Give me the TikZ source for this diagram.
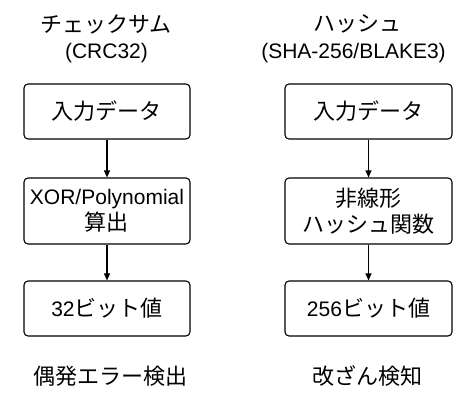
\documentclass[tikz,border=0pt]{standalone}
\usepackage{fontspec}
\setmainfont{Liberation Sans}
\newfontfamily\jpfont{Noto Sans CJK JP}
\newcommand{\jp}[1]{{\jpfont\fontsize{22}{26}\selectfont #1}}
\usetikzlibrary{arrows.meta}
\begin{document}
\begin{tikzpicture}[x=1pt,y=1pt,
  every node/.style={font=\fontsize{21}{26}\selectfont, inner sep=0pt},
  stepbox/.style={draw, line width=1.1pt, rounded corners=4pt, align=center},
  flow/.style={-{Triangle[length=7pt,width=6pt]}, line width=1.1pt}]
\useasboundingbox (0,0) rectangle (472,-401);
% left column
\node (lt1) at (106,-24) {\jp{チェックサム}};
\node (lt2) at (106.5,-53) {(CRC32)};
\node[stepbox, minimum width=166pt, minimum height=55pt] (l1) at (107,-111.5) {\jp{入力データ}};
\node[stepbox, minimum width=166pt, minimum height=66pt] (l2) at (107,-211) {XOR/Polynomial\\\jp{算出}};
\node[stepbox, minimum width=166pt, minimum height=55pt] (l3) at (107,-308.5) {32\jp{ビット値}};
\node (lc) at (111,-376) {\jp{偶発エラー検出}};
\draw[flow] (l1) -- (l2);
\draw[flow] (l2) -- (l3);
% right column
\node (rt1) at (357.5,-24) {\jp{ハッシュ}};
\node (rt2) at (353.5,-53) {(SHA-256/BLAKE3)};
\node[stepbox, minimum width=167pt, minimum height=55pt] (r1) at (368.5,-111.5) {\jp{入力データ}};
\node[stepbox, minimum width=167pt, minimum height=66pt] (r2) at (368.5,-211) {\jp{非線形}\\\jp{ハッシュ関数}};
\node[stepbox, minimum width=167pt, minimum height=55pt] (r3) at (368.5,-308.5) {256\jp{ビット値}};
\node (rc) at (367.5,-376) {\jp{改ざん検知}};
\draw[flow] (r1) -- (r2);
\draw[flow] (r2) -- (r3);
\end{tikzpicture}
\end{document}
